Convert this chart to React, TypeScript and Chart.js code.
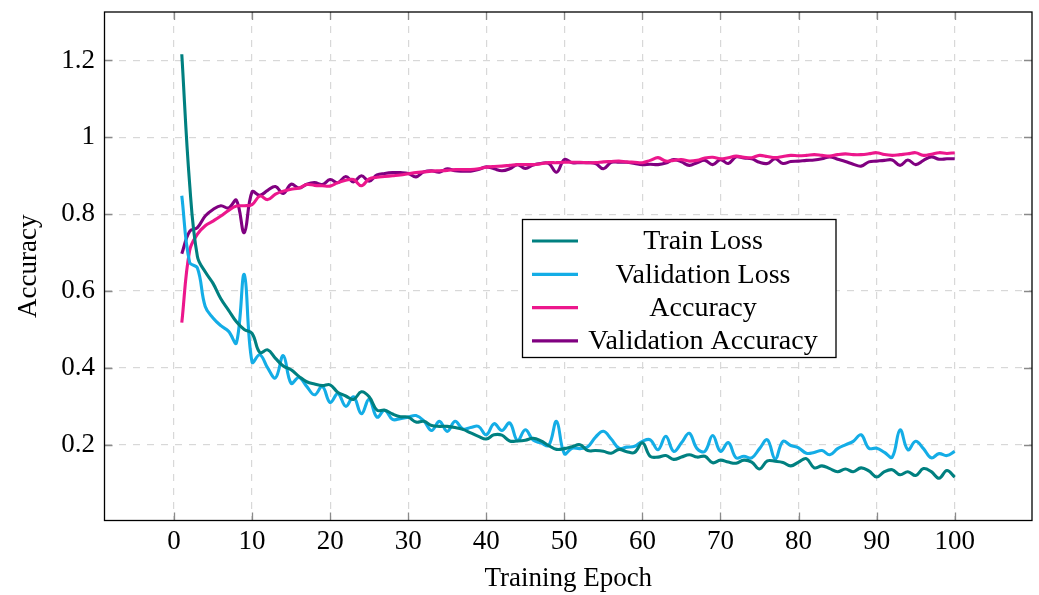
import React, { useEffect, useRef } from "react";
import { Chart, registerables } from "chart.js";
Chart.register(...registerables);

const epochs = Array.from({ length: 100 }, (_, i) => i + 1);

const trainLoss = [
  1.216, 0.88, 0.69, 0.65, 0.62, 0.58, 0.55, 0.52, 0.5, 0.49,
  0.44, 0.447, 0.425, 0.405, 0.395, 0.378, 0.364, 0.358, 0.354, 0.356,
  0.336, 0.327, 0.318, 0.338, 0.325, 0.29, 0.29, 0.28, 0.273, 0.272,
  0.259, 0.261, 0.25, 0.248, 0.248, 0.245, 0.24, 0.231, 0.222, 0.215,
  0.226, 0.225, 0.21, 0.21, 0.212, 0.217, 0.21, 0.198, 0.188, 0.19,
  0.195, 0.2, 0.185, 0.185, 0.183, 0.178, 0.188, 0.182, 0.18, 0.205,
  0.17, 0.168, 0.172, 0.162, 0.168, 0.174, 0.168, 0.17, 0.153, 0.16,
  0.155, 0.152, 0.16, 0.155, 0.137, 0.158, 0.157, 0.154, 0.145, 0.155,
  0.164, 0.14, 0.145, 0.138, 0.13, 0.137, 0.13, 0.14, 0.132, 0.116,
  0.13, 0.135, 0.122, 0.13, 0.12, 0.138, 0.13, 0.113, 0.133, 0.116,
];

const valLoss = [
  0.848, 0.675, 0.66, 0.56, 0.53, 0.51, 0.495, 0.465, 0.643, 0.415,
  0.434, 0.4, 0.374, 0.432, 0.36, 0.375, 0.352, 0.33, 0.352, 0.31,
  0.333, 0.3, 0.325, 0.281, 0.318, 0.272, 0.29, 0.266, 0.268, 0.272,
  0.276, 0.262, 0.237, 0.261, 0.235, 0.261, 0.241, 0.245, 0.248, 0.226,
  0.255, 0.237, 0.257, 0.211, 0.239, 0.212, 0.205, 0.198, 0.261, 0.177,
  0.191, 0.19, 0.195, 0.22, 0.235, 0.215, 0.191, 0.194, 0.196, 0.209,
  0.213, 0.187, 0.222, 0.183, 0.205, 0.23, 0.19, 0.183, 0.224, 0.183,
  0.206, 0.166, 0.17, 0.166, 0.19, 0.213, 0.163, 0.209, 0.198, 0.192,
  0.178, 0.18, 0.185, 0.174, 0.19, 0.2, 0.209, 0.226, 0.191, 0.191,
  0.18, 0.168, 0.239, 0.187, 0.209, 0.19, 0.166, 0.177, 0.172, 0.183,
];

const accuracy = [
  0.518, 0.705, 0.748, 0.77, 0.782, 0.795, 0.81, 0.821, 0.822, 0.825,
  0.847, 0.838, 0.852, 0.86, 0.865, 0.868, 0.877, 0.875, 0.874, 0.873,
  0.882, 0.888, 0.89, 0.874, 0.892, 0.896, 0.898, 0.9, 0.902, 0.905,
  0.908, 0.91, 0.912, 0.913, 0.914, 0.916, 0.916, 0.916, 0.918, 0.922,
  0.924, 0.925, 0.927, 0.929, 0.929, 0.929, 0.931, 0.934, 0.934, 0.935,
  0.935, 0.935, 0.934, 0.934, 0.936, 0.937, 0.938, 0.936, 0.935, 0.934,
  0.94, 0.947, 0.938, 0.94, 0.942, 0.938, 0.94, 0.946, 0.948, 0.944,
  0.947, 0.951, 0.948, 0.947, 0.953, 0.95, 0.947, 0.95, 0.953, 0.952,
  0.953, 0.955, 0.953, 0.951, 0.955, 0.957, 0.955, 0.955, 0.957, 0.96,
  0.955, 0.953, 0.955, 0.957, 0.96, 0.953, 0.956, 0.96, 0.958, 0.96,
];

const valAccuracy = [
  0.697, 0.755, 0.765, 0.795, 0.812, 0.822, 0.816, 0.836, 0.752, 0.858,
  0.849, 0.862, 0.872, 0.854, 0.878, 0.868, 0.878, 0.882, 0.877, 0.89,
  0.882, 0.898, 0.884, 0.9, 0.886, 0.902, 0.906, 0.908, 0.908, 0.906,
  0.897, 0.91, 0.913, 0.909, 0.918, 0.913, 0.912, 0.912, 0.916, 0.923,
  0.918, 0.913, 0.918, 0.929, 0.919, 0.928, 0.932, 0.932, 0.909, 0.942,
  0.934, 0.934, 0.934, 0.932, 0.918, 0.935, 0.935, 0.935, 0.932, 0.929,
  0.93, 0.929, 0.933, 0.942, 0.936, 0.927, 0.934, 0.94, 0.929, 0.942,
  0.932, 0.949, 0.946, 0.944, 0.935, 0.932, 0.944, 0.932, 0.937, 0.938,
  0.94, 0.941, 0.944, 0.949, 0.943, 0.937, 0.93, 0.925, 0.936, 0.938,
  0.94, 0.941, 0.927, 0.941, 0.929, 0.94, 0.949, 0.943, 0.944, 0.944,
];

const xTicks = [0, 10, 20, 30, 40, 50, 60, 70, 80, 90, 100];
const yTicks = [0.2, 0.4, 0.6, 0.8, 1, 1.2];
const seriesNames = ["Train Loss", "Validation Loss", "Accuracy", "Validation Accuracy"];
const seriesColors = ["#008080", "#14ade6", "#ec178c", "#800080"];
const xTitle = "Training Epoch";
const yTitle = "Accuracy";

const FONT_FAMILY = '"Liberation Serif", "Times New Roman", serif';
const FONT_SIZE = 27;
const LEGEND_FONT_SIZE = 28;

const framePlugin = {
  id: "frameAndLegend",
  afterDraw(chart: any) {
    const { ctx, chartArea: a, scales } = chart;
    const xs = scales.x;
    const ys = scales.y;
    ctx.save();
    // inward tick marks
    ctx.strokeStyle = "#8a8a8a";
    ctx.lineWidth = 1.3;
    ctx.beginPath();
    xTicks.forEach((v) => {
      const px = Math.round(xs.getPixelForValue(v)) + 0.5;
      ctx.moveTo(px, a.bottom);
      ctx.lineTo(px, a.bottom - 8);
      ctx.moveTo(px, a.top);
      ctx.lineTo(px, a.top + 8);
    });
    yTicks.forEach((v) => {
      const py = Math.round(ys.getPixelForValue(v)) + 0.5;
      ctx.moveTo(a.left, py);
      ctx.lineTo(a.left + 8, py);
      ctx.moveTo(a.right, py);
      ctx.lineTo(a.right - 8, py);
    });
    ctx.stroke();
    // frame
    ctx.strokeStyle = "#000";
    ctx.lineWidth = 1.3;
    ctx.strokeRect(a.left, a.top, a.right - a.left, a.bottom - a.top);

    // legend
    const bx = a.left + 418;
    const by = a.top + 207.5;
    const bw = 313.5;
    const bh = 138;
    ctx.fillStyle = "#fff";
    ctx.fillRect(bx, by, bw, bh);
    ctx.strokeStyle = "#000";
    ctx.lineWidth = 1.3;
    ctx.strokeRect(bx, by, bw, bh);
    ctx.font = `${LEGEND_FONT_SIZE}px ${FONT_FAMILY}`;
    ctx.textAlign = "center";
    ctx.textBaseline = "middle";
    chart.data.datasets.forEach((ds: any, i: number) => {
      const ry = by + 21.5 + i * 33.3;
      ctx.strokeStyle = ds.borderColor;
      ctx.lineWidth = 3.2;
      ctx.beginPath();
      ctx.moveTo(bx + 9.5, ry);
      ctx.lineTo(bx + 55.5, ry);
      ctx.stroke();
      ctx.fillStyle = "#000";
      ctx.fillText(ds.label, bx + 180.5, ry + 1);
    });
    ctx.restore();
  },
};

export default function App() {
  const ref = useRef<HTMLCanvasElement | null>(null);

  useEffect(() => {
    const canvas = ref.current;
    if (!canvas) return;
    const seriesValues = [trainLoss, valLoss, accuracy, valAccuracy];
    const font = { family: FONT_FAMILY, size: FONT_SIZE };
    const chart = new Chart(canvas, {
      type: "line",
      data: {
        datasets: seriesValues.map((vals, i) => ({
          label: seriesNames[i],
          data: vals.map((v, j) => ({ x: epochs[j], y: v })),
          borderColor: seriesColors[i],
          backgroundColor: seriesColors[i],
          borderWidth: 3.1,
          pointRadius: 0,
          tension: 0.4,
          fill: false,
        })),
      },
      options: {
        responsive: false,
        animation: false,
        devicePixelRatio: 1,
        layout: { padding: { top: 12, right: 7, left: 0, bottom: 0 } },
        plugins: {
          legend: { display: false },
          tooltip: { enabled: false },
        },
        scales: {
          x: {
            type: "linear",
            min: -8.9,
            max: 109.9,
            afterBuildTicks: (s: any) => {
              s.ticks = xTicks.map((v) => ({ value: v }));
            },
            afterFit: (s: any) => {
              s.height = 74.5;
              s.paddingLeft = 0;
              s.paddingRight = 0;
            },
            grid: { color: "#d8d8d8", lineWidth: 1.2, drawTicks: false },
            border: { display: false, dash: [7, 7] },
            ticks: {
              font,
              color: "#000",
              padding: 5,
              maxRotation: 0,
              callback: (v: any) => String(v),
            },
            title: {
              display: true,
              text: xTitle,
              font,
              color: "#000",
              padding: { top: 0, bottom: 0 },
            },
          },
          y: {
            type: "linear",
            min: 0.003,
            max: 1.326,
            afterBuildTicks: (s: any) => {
              s.ticks = yTicks.map((v) => ({ value: v }));
            },
            afterFit: (s: any) => {
              s.width = 104.5;
              s.paddingTop = 0;
              s.paddingBottom = 0;
            },
            grid: { color: "#d8d8d8", lineWidth: 1.2, drawTicks: false },
            border: { display: false, dash: [7, 7] },
            ticks: {
              font,
              color: "#000",
              padding: 9.5,
              callback: (v: any) => (Math.abs(v - 1) < 1e-9 ? "1" : Number(v).toFixed(1)),
            },
            title: {
              display: true,
              text: yTitle,
              font,
              color: "#000",
              padding: { top: 13, bottom: 0 },
            },
          },
        },
      },
      plugins: [framePlugin],
    });
    return () => chart.destroy();
  }, []);

  return (
    <div style={{ position: "absolute", left: 0, top: 0, width: 1039, height: 595, background: "#fff" }}>
      <canvas ref={ref} width={1039} height={595} style={{ display: "block" }} />
    </div>
  );
}
